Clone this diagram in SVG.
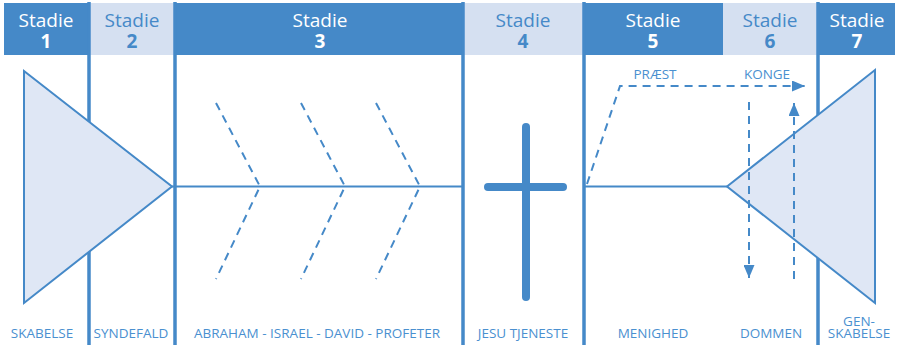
<svg xmlns="http://www.w3.org/2000/svg" width="898" height="345" viewBox="0 0 898 345">
<defs>
<style>
.dark{fill:#4589c8}
.light{fill:#d5e0f1}
.hw{font-family:"Open Sans","Noto Sans",sans-serif;font-size:19px;fill:#fff;text-anchor:middle}
.hb{font-family:"Open Sans","Noto Sans",sans-serif;font-size:19px;fill:#4589c8;text-anchor:middle}
.num{font-weight:bold}
.lbl{font-family:"Open Sans","Noto Sans",sans-serif;font-size:13.5px;fill:#4a90d0;text-anchor:middle}
.vline{stroke:#4589c8;stroke-width:3.5;fill:none}
.line{stroke:#4589c8;stroke-width:2;fill:none}
.dash{stroke:#4589c8;stroke-width:2;fill:none;stroke-dasharray:8 6}
.tri{fill:#dfe7f5;stroke:#4589c8;stroke-width:2;stroke-linejoin:miter}
</style>
<marker id="ah" viewBox="0 0 13 11" refX="13" refY="5.5" markerWidth="13" markerHeight="11" markerUnits="userSpaceOnUse" orient="auto">
<path d="M0,0 L13,5.5 L0,11 Z" fill="#4589c8"/>
</marker>
</defs>
<rect width="898" height="345" fill="#fff"/>

<g id="headers">
<g id="h1"><rect class="dark" x="4" y="3" width="85" height="52"/><text class="hw" x="46" y="27">Stadie</text><text class="hw num" x="46" y="48">1</text></g>
<g id="h2"><rect class="light" x="89" y="3" width="86" height="52"/><text class="hb" x="132" y="27">Stadie</text><text class="hb num" x="132" y="48">2</text></g>
<g id="h3"><rect class="dark" x="175" y="3" width="288" height="52"/><text class="hw" x="320" y="27">Stadie</text><text class="hw num" x="320" y="48">3</text></g>
<g id="h4"><rect class="light" x="463" y="3" width="121" height="52"/><text class="hb" x="523" y="27">Stadie</text><text class="hb num" x="523" y="48">4</text></g>
<g id="h5"><rect class="dark" x="584" y="3" width="139" height="52"/><text class="hw" x="653" y="27">Stadie</text><text class="hw num" x="653" y="48">5</text></g>
<g id="h6"><rect class="light" x="723" y="3" width="95" height="52"/><text class="hb" x="770" y="27">Stadie</text><text class="hb num" x="770" y="48">6</text></g>
<g id="h7"><rect class="dark" x="818" y="3" width="77" height="52"/><text class="hw" x="857" y="27">Stadie</text><text class="hw num" x="857" y="48">7</text></g>
</g>

<g id="dividers">
<line class="vline" x1="89" y1="2" x2="89" y2="345"/>
<line class="vline" x1="175" y1="2" x2="175" y2="345"/>
<line class="vline" x1="463" y1="2" x2="463" y2="345"/>
<line class="vline" x1="584" y1="2" x2="584" y2="345"/>
<line class="vline" x1="818" y1="2" x2="818" y2="345"/>
</g>

<g id="connectors">
<line class="line" x1="172" y1="186.5" x2="463" y2="186.5"/>
<line class="line" x1="584" y1="186.5" x2="727" y2="186.5"/>
<polyline class="dash" points="216,103 260,186.5 216,279"/>
<polyline class="dash" points="301,103 345,186.5 301,279"/>
<polyline class="dash" points="376,103 420,186.5 376,279"/>
<polyline class="dash" points="587,184 620,86 805,86" marker-end="url(#ah)"/>
</g>

<g id="creation"><polygon class="tri" points="24,71 24,303 172,186.5"/></g>
<g id="newcreation"><polygon class="tri" points="727,186.5 875,70 875,303"/></g>

<g id="judgement-arrows">
<line class="dash" x1="749" y1="102" x2="749" y2="278" marker-end="url(#ah)"/>
<line class="dash" x1="794" y1="279" x2="794" y2="103" marker-end="url(#ah)"/>
</g>

<g id="cross">
<line x1="526" y1="127" x2="526" y2="297" stroke="#4589c8" stroke-width="8" stroke-linecap="round"/>
<line x1="488" y1="187" x2="563" y2="187" stroke="#4589c8" stroke-width="8" stroke-linecap="round"/>
</g>

<g id="labels">
<text class="lbl" x="655" y="79">PRÆST</text>
<text class="lbl" x="767" y="79">KONGE</text>
<text class="lbl" x="42" y="338">SKABELSE</text>
<text class="lbl" x="131" y="338">SYNDEFALD</text>
<text class="lbl" x="317" y="338">ABRAHAM - ISRAEL - DAVID - PROFETER</text>
<text class="lbl" x="523" y="338">JESU TJENESTE</text>
<text class="lbl" x="653" y="338">MENIGHED</text>
<text class="lbl" x="771" y="338">DOMMEN</text>
<text class="lbl" x="859" y="326">GEN-</text>
<text class="lbl" x="859" y="338">SKABELSE</text>
</g>
</svg>
